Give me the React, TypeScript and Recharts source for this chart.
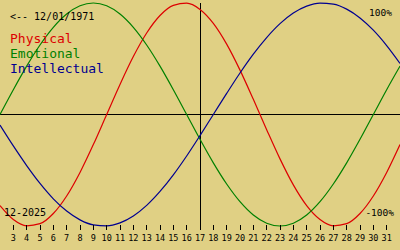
import { LineChart, Line, XAxis, YAxis, ReferenceLine } from "recharts";

// days of the month shown (today = 17, ±15 days)
const days = [2, 3, 4, 5, 6, 7, 8, 9, 10, 11, 12, 13, 14, 15, 16, 17, 18, 19, 20, 21, 22, 23, 24, 25, 26, 27, 28, 29, 30, 31, 32];
const tickDays = [3, 4, 5, 6, 7, 8, 9, 10, 11, 12, 13, 14, 15, 16, 17, 18, 19, 20, 21, 22, 23, 24, 25, 26, 27, 28, 29, 30, 31];

// values, -1 = -100%, 1 = 100%
const physical = [-0.817, -0.942, -0.998, -0.979, -0.888, -0.731, -0.52, -0.27, 0, 0.27, 0.52, 0.731, 0.888, 0.979, 0.998, 0.942, 0.817, 0.631, 0.398, 0.136, -0.136, -0.398, -0.631, -0.817, -0.942, -0.998, -0.979, -0.888, -0.731, -0.52, -0.27];
const emotional = [0, 0.2225, 0.4339, 0.6235, 0.7818, 0.901, 0.9749, 1, 0.9749, 0.901, 0.7818, 0.6235, 0.4339, 0.2225, 0, -0.2225, -0.4339, -0.6235, -0.7818, -0.901, -0.9749, -1, -0.9749, -0.901, -0.7818, -0.6235, -0.4339, -0.2225, 0, 0.2225, 0.4339];
const intellectual = [-0.095, -0.282, -0.458, -0.618, -0.756, -0.866, -0.945, -0.99, -0.999, -0.972, -0.91, -0.815, -0.69, -0.541, -0.372, -0.189, 0, 0.189, 0.372, 0.541, 0.69, 0.815, 0.91, 0.972, 0.999, 0.99, 0.945, 0.866, 0.756, 0.618, 0.458];

const today = 17;

const data = days.map((d, i) => ({
  day: d,
  physical: physical[i],
  emotional: emotional[i],
  intellectual: intellectual[i],
}));

const BG = "#e0d084";
const RED = "#dd0000";
const GREEN = "#008000";
const BLUE = "#000090";
const mono = "'DejaVu Sans Mono', monospace";

const DayTick = (props: any) => {
  const { x, payload } = props;
  return (
    <g>
      <line x1={x} x2={x} y1={225} y2={230} stroke="#000" shapeRendering="crispEdges" />
      <text x={x} y={240.5} textAnchor="middle" fontSize={8.5} fontFamily={mono} fill="#000">
        {payload.value}
      </text>
    </g>
  );
};

const label = (top: number, left: number | undefined, right: number | undefined, size: number, color: string) => ({
  position: "absolute" as const,
  top,
  left,
  right,
  fontSize: size,
  lineHeight: 1,
  fontFamily: mono,
  color,
  whiteSpace: "pre" as const,
});

export default function App() {
  return (
    <div style={{ position: "fixed", top: 0, left: 0, width: 400, height: 250, background: BG, overflow: "hidden" }}>
      <LineChart width={400} height={250} data={data} margin={{ top: 3, right: 0, bottom: 0, left: 0 }}>
        <XAxis
          dataKey="day"
          type="number"
          domain={[2, 32]}
          ticks={tickDays}
          axisLine={false}
          tickLine={false}
          tick={<DayTick />}
          height={24}
          interval={0}
        />
        <YAxis hide domain={[-1, 1]} width={0} />
        <ReferenceLine y={0} stroke="#000" shapeRendering="crispEdges" />
        <ReferenceLine x={today} stroke="#000" shapeRendering="crispEdges" />
        <Line type="monotone" dataKey="physical" stroke={RED} strokeWidth={1.2} dot={false} isAnimationActive={false} />
        <Line type="monotone" dataKey="emotional" stroke={GREEN} strokeWidth={1.2} dot={false} isAnimationActive={false} />
        <Line type="monotone" dataKey="intellectual" stroke={BLUE} strokeWidth={1.2} dot={false} isAnimationActive={false} />
      </LineChart>
      <div style={label(12.2, 10, undefined, 10, "#000")}>{"<-- 12/01/1971"}</div>
      <div style={label(31.8, 10, undefined, 13, RED)}>Physical</div>
      <div style={label(46.8, 10, undefined, 13, GREEN)}>Emotional</div>
      <div style={label(61.8, 10, undefined, 13, BLUE)}>Intellectual</div>
      <div style={label(7.8, undefined, 8, 9.5, "#000")}>100%</div>
      <div style={label(208, undefined, 6, 9.5, "#000")}>-100%</div>
      <div style={label(208, 4, undefined, 10, "#000")}>12-2025</div>
    </div>
  );
}
